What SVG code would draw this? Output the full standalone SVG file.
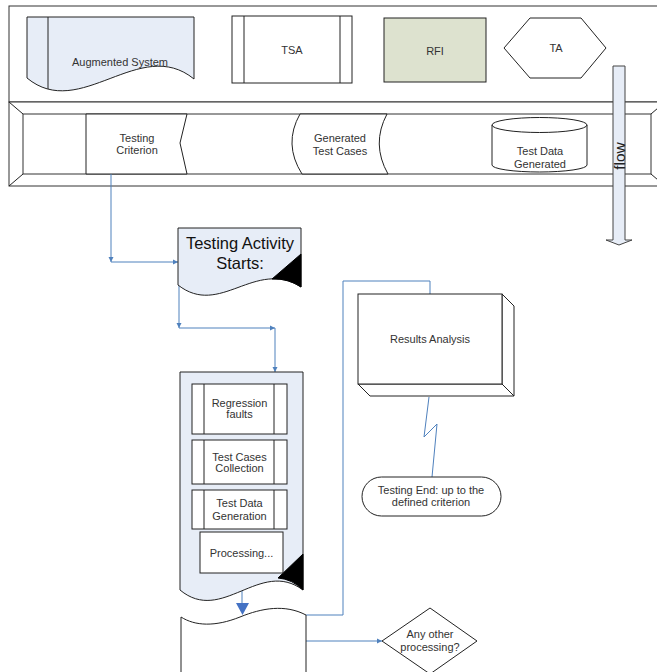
<svg xmlns="http://www.w3.org/2000/svg" width="657" height="672" viewBox="0 0 657 672">
<style>
.s{fill:#fff;stroke:#222;stroke-width:1}
.lb{fill:#E7EDF7;stroke:#222;stroke-width:1}
.fr{fill:#fff;stroke:#333;stroke-width:1}
.ln{fill:none;stroke:#222;stroke-width:1}
.t{font-family:"Liberation Sans",Arial,sans-serif;font-size:11px;fill:#333;text-anchor:middle}
.c{fill:none;stroke:#4F81BD;stroke-width:1}
.blk{fill:#000;stroke:#000;stroke-width:1}
</style>
<defs>
<marker id="a" markerWidth="6" markerHeight="6" refX="5" refY="3" orient="auto" markerUnits="userSpaceOnUse">
<path d="M0,0.5 L5,3 L0,5.5 Z" fill="#4F81BD"/>
</marker>
</defs>
<rect fill="#fff" x="0" y="0" width="657" height="672"/>
<g id="top-container">
<rect class="fr" x="9" y="6" width="660" height="96"/>
</g>
<g id="band">
<rect class="fr" x="9" y="102" width="656" height="84"/>
<rect class="fr" x="23" y="114" width="628" height="60"/>
<path class="ln" d="M9,102 L23,114 M9,186 L23,174 M651,114 L665,102 M651,174 L665,186"/>
</g>
<g id="augmented-system">
<path class="lb" d="M27,17 H194 V79 C140,35 80,122 27,78 Z"/>
<path class="ln" d="M48,17 V89"/>
<text class="t" x="120" y="66">Augmented System</text>
</g>
<g id="tsa">
<rect class="s" x="232" y="16" width="120" height="67"/>
<path class="ln" d="M244,16 V83 M340,16 V83"/>
<text class="t" x="292" y="54">TSA</text>
</g>
<g id="rfi">
<rect x="384" y="18" width="102" height="64" fill="#DDE2CF" stroke="#222"/>
<text class="t" x="435" y="55">RFI</text>
</g>
<g id="ta">
<polygon class="s" points="504,48 530,18 581,18 606,48 581,78 530,78"/>
<text class="t" x="556" y="52">TA</text>
</g>
<g id="testing-criterion">
<path class="s" d="M86,114 H187 L180,143 L187,174 H86 Z"/>
<text class="t" x="137" y="141.5">Testing</text>
<text class="t" x="137" y="153.5">Criterion</text>
</g>
<g id="generated-test-cases">
<path class="s" d="M300,114 H387 Q371,144 388,174 H302 Q283,144 300,114 Z"/>
<text class="t" x="340" y="142">Generated</text>
<text class="t" x="340" y="155">Test Cases</text>
</g>
<g id="test-data-generated">
<path class="s" d="M492,125 A47.5,7.5 0 0 1 587,125 V165 A47.5,7 0 0 1 492,165 Z"/>
<path class="ln" d="M492,125 A47.5,7.5 0 0 0 587,125"/>
<text class="t" x="540" y="155">Test Data</text>
<text class="t" x="540" y="168">Generated</text>
</g>
<g id="flow">
<polygon points="613,66 625,66 625,240 632,240 619,245 606,240 613,240" fill="#E7EDF7" stroke="#444" stroke-width="1"/>
<text transform="translate(625,156) rotate(-90)" x="0" y="0" style="font-family:'Liberation Sans',Arial,sans-serif;font-size:15.5px;fill:#222;text-anchor:middle">flow</text>
</g>
<g id="connectors">
<path class="c" d="M111,174 V262" marker-end="url(#a)"/>
<path class="c" d="M111,262 H178" marker-end="url(#a)"/>
<path class="c" d="M179,285 V328" marker-end="url(#a)"/>
<path class="c" d="M179,328 H275" marker-end="url(#a)"/>
<path class="c" d="M275,328 V372" marker-end="url(#a)"/>
<path class="c" d="M242,590 V605"/>
<polygon points="236,603 249,603 242.5,615" fill="#4472C4"/>
<path class="c" d="M306,615 H343 V281 H430 V295"/>
<path class="c" d="M306,641 H382" marker-end="url(#a)"/>
<path class="c" d="M429,397 L424,437 L437,424 L432,477"/>
</g>
<g id="testing-activity-starts">
<path class="lb" d="M178,228 H301 V287 C255,258 220,318 178,285 Z"/>
<path class="blk" d="M301,254 L272,279 Q288,278 301,287 Z"/>
<text x="240" y="249" style="font-family:'Liberation Sans',Arial,sans-serif;font-size:16.5px;fill:#111;text-anchor:middle">Testing Activity</text>
<text x="240" y="269" style="font-family:'Liberation Sans',Arial,sans-serif;font-size:16.5px;fill:#111;text-anchor:middle">Starts:</text>
</g>
<g id="processing-container">
<path class="lb" d="M180,372 H303 V590 C260,558 222,625 180,590 Z"/>
<path class="blk" d="M303,554 L278,578 Q292,579 303,590 Z"/>
</g>
<g id="regression-faults">
<rect class="s" x="192" y="384" width="95" height="50"/>
<path class="ln" d="M204,384 V434 M274,384 V434"/>
<text class="t" x="239.5" y="406.5">Regression</text>
<text class="t" x="239.5" y="418">faults</text>
</g>
<g id="test-cases-collection">
<rect class="s" x="192" y="440" width="95" height="44"/>
<path class="ln" d="M204,440 V484 M274,440 V484"/>
<text class="t" x="239.5" y="460.5">Test Cases</text>
<text class="t" x="239.5" y="472">Collection</text>
</g>
<g id="test-data-generation">
<rect class="s" x="192" y="490" width="95" height="39"/>
<path class="ln" d="M204,490 V529 M274,490 V529"/>
<text class="t" x="239.5" y="507">Test Data</text>
<text class="t" x="239.5" y="519.5">Generation</text>
</g>
<g id="processing">
<rect class="s" x="200" y="532" width="83" height="41"/>
<text class="t" x="241.5" y="556.5">Processing...</text>
</g>
<g id="bottom-shape">
<path class="s" d="M181,680 V617 C195,626 215,627 240,617 C262,608 285,604 306,615 V680 Z"/>
</g>
<g id="results-analysis">
<path class="s" d="M502,294 L514,306 V396 L502,384 Z"/>
<path class="s" d="M358,384 H502 L514,396 H370 Z"/>
<rect class="s" x="358" y="294" width="144" height="90"/>
<text class="t" x="430" y="343">Results Analysis</text>
</g>
<g id="testing-end">
<rect class="s" x="362" y="477" width="139" height="39" rx="19.5" ry="19.5"/>
<text class="t" x="431" y="494">Testing End: up to the</text>
<text class="t" x="431" y="506">defined criterion</text>
</g>
<g id="any-other-processing">
<polygon class="s" points="382,641 430,608 477,641 430,674"/>
<text class="t" x="430" y="638">Any other</text>
<text class="t" x="430" y="651">processing?</text>
</g>
</svg>
